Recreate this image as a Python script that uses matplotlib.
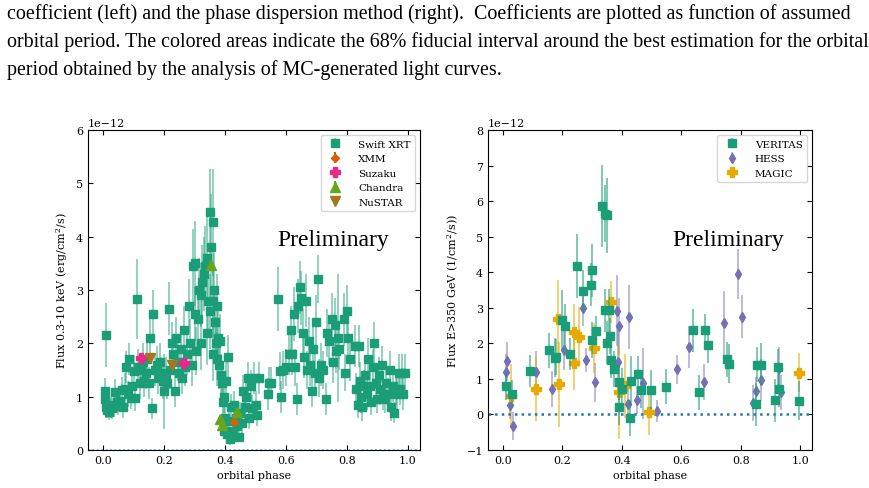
import matplotlib
matplotlib.use("Agg")
import matplotlib.pyplot as plt
import numpy as np

# Swift XRT (phase, flux[1e-12], err)
swift = [
(0.005,1.1,0.25),(0.007,0.95,0.2),(0.008,2.15,0.6),(0.01,0.8,0.2),(0.012,0.75,0.15),(0.015,0.85,0.2),
(0.02,0.72,0.15),(0.025,0.8,0.2),(0.03,0.78,0.2),(0.035,0.82,0.2),(0.04,1.08,0.25),(0.045,0.9,0.2),
(0.05,0.85,0.2),(0.055,0.92,0.2),(0.06,1.12,0.25),(0.065,0.8,0.2),(0.07,1.15,0.3),(0.075,1.55,0.3),
(0.08,1.05,0.25),(0.085,1.7,0.3),(0.09,0.97,0.2),(0.095,1.2,0.3),(0.1,1.48,0.3),(0.105,0.98,0.25),
(0.11,2.83,0.75),(0.115,1.55,0.35),(0.12,1.25,0.3),(0.125,1.5,0.3),(0.13,1.65,0.35),(0.135,1.3,0.3),
(0.14,1.45,0.3),(0.145,1.7,0.3),(0.15,1.25,0.3),(0.155,2.1,0.4),(0.16,0.78,0.2),(0.165,2.55,0.45),
(0.17,1.5,0.3),(0.175,1.6,0.35),(0.18,1.35,0.3),(0.185,1.65,0.35),(0.19,1.45,0.3),(0.195,1.3,0.35),
(0.2,1.1,0.7),(0.205,1.4,0.35),(0.21,1.25,0.3),(0.215,2.65,0.5),(0.22,1.5,0.35),(0.225,2.0,0.4),
(0.23,1.8,0.35),(0.235,1.1,0.3),(0.24,2.1,0.4),(0.245,1.65,0.35),(0.25,1.45,0.35),(0.255,1.9,0.4),
(0.26,1.35,0.3),(0.265,2.25,0.45),(0.27,1.55,0.35),(0.275,1.8,0.4),(0.28,2.7,0.5),(0.285,2.0,0.45),
(0.29,1.6,0.4),(0.295,3.45,0.7),(0.3,3.5,0.8),(0.3,2.55,0.5),(0.305,1.85,0.45),(0.31,2.45,0.5),
(0.315,3.0,0.6),(0.32,2.0,0.5),(0.322,2.9,0.6),(0.325,3.15,0.7),(0.33,3.3,0.7),(0.335,3.45,0.75),
(0.34,2.2,0.6),(0.342,3.6,0.8),(0.345,2.8,0.7),(0.35,4.47,0.8),(0.352,2.6,0.7),(0.355,3.8,1.0),
(0.36,4.27,1.0),(0.36,1.8,0.5),(0.362,2.8,0.7),(0.365,3.0,0.7),(0.368,2.4,0.6),(0.37,2.0,0.5),
(0.372,1.7,0.5),(0.375,2.7,0.6),(0.378,2.1,0.5),(0.38,1.6,0.45),(0.385,2.05,0.5),(0.388,1.4,0.4),
(0.39,1.25,0.35),(0.392,0.9,0.3),(0.395,1.0,0.3),(0.398,0.35,0.15),(0.4,0.6,0.2),(0.402,1.3,0.35),
(0.405,0.3,0.15),(0.41,1.75,0.4),(0.412,0.55,0.2),(0.415,0.2,0.1),(0.42,0.8,0.25),(0.425,0.35,0.15),
(0.43,0.85,0.25),(0.435,0.6,0.2),(0.44,0.45,0.2),(0.445,0.25,0.1),(0.45,0.7,0.2),(0.455,0.5,0.2),
(0.46,1.1,0.3),(0.465,0.8,0.25),(0.47,1.0,0.3),(0.475,1.35,0.3),(0.48,0.6,0.2),(0.485,1.2,0.3),
(0.49,0.78,0.25),(0.495,1.35,0.3),(0.5,0.85,0.25),(0.505,0.65,0.2),(0.51,1.35,0.3),(0.54,1.05,0.3),
(0.545,1.25,0.3),(0.55,1.25,0.3),(0.575,2.83,0.6),(0.58,1.48,0.35),(0.585,1.0,0.3),(0.59,1.5,0.35),
(0.6,1.55,0.35),(0.61,1.8,0.4),(0.615,2.25,0.45),(0.62,1.8,0.4),(0.625,2.55,0.5),(0.63,1.55,0.35),
(0.635,0.95,0.3),(0.64,2.7,0.5),(0.645,3.05,0.5),(0.65,2.85,0.5),(0.655,2.2,0.45),(0.66,1.75,0.4),
(0.665,2.8,0.5),(0.67,1.5,0.35),(0.675,2.05,0.45),(0.68,1.6,0.4),(0.685,1.1,0.3),(0.69,1.9,0.4),
(0.695,1.45,0.35),(0.7,2.4,0.5),(0.705,3.2,0.45),(0.71,1.35,0.35),(0.715,1.6,0.4),(0.72,1.5,0.35),
(0.73,0.95,0.3),(0.735,2.2,0.45),(0.74,2.05,0.45),(0.75,2.45,0.5),(0.755,1.65,0.4),(0.76,2.35,0.5),
(0.765,1.85,0.4),(0.77,2.1,1.2),(0.775,1.9,0.4),(0.79,2.45,0.5),(0.795,1.45,0.35),(0.8,2.6,0.5),
(0.805,2.1,0.45),(0.81,1.7,0.4),(0.825,1.95,0.4),(0.83,1.15,0.3),(0.835,0.85,0.25),(0.84,1.95,0.4),
(0.842,1.3,0.35),(0.845,1.0,0.3),(0.85,0.8,0.25),(0.855,1.2,0.3),(0.86,1.4,0.35),(0.865,1.05,0.3),
(0.87,1.7,0.4),(0.875,1.2,0.3),(0.88,0.9,0.25),(0.885,1.55,0.35),(0.89,2.0,0.4),(0.895,1.25,0.3),
(0.9,0.95,0.25),(0.905,1.4,0.35),(0.91,1.15,0.3),(0.915,1.6,0.35),(0.92,1.05,0.3),(0.925,0.95,0.25),
(0.93,1.25,0.3),(0.935,1.05,0.3),(0.94,1.5,0.35),(0.945,0.8,0.25),(0.95,1.2,0.3),(0.955,0.7,0.2),
(0.96,1.15,0.3),(0.965,1.05,0.3),(0.97,1.45,0.35),(0.975,1.15,0.3),(0.98,1.45,0.35),(0.985,1.05,0.3),
(0.99,1.45,0.35)]
xmm = [(0.43,0.52,0.08)]
suzaku = [(0.125,1.73,0.06),(0.265,1.63,0.06)]
chandra = [(0.355,3.47,0.1),(0.385,0.58,0.06),(0.39,0.46,0.05),(0.44,0.72,0.06)]
nustar = [(0.155,1.73,0.05),(0.225,1.6,0.05)]

veritas = [(0.01,0.8,0.4),(0.03,0.57,0.4),(0.09,1.22,0.45),(0.155,1.8,0.5),(0.175,1.6,0.55),(0.18,1.62,0.5),
(0.20,2.65,0.85),(0.21,2.5,0.6),(0.225,1.7,0.45),(0.25,4.18,0.9),(0.27,3.47,0.6),(0.295,3.65,0.6),
(0.30,4.05,0.75),(0.30,2.1,0.5),(0.315,2.36,0.4),(0.335,5.86,1.15),(0.345,5.65,0.8),(0.352,5.6,1.05),
(0.345,2.93,0.6),(0.352,2.02,0.6),(0.358,2.93,0.6),(0.36,2.2,0.5),(0.365,1.52,0.5),(0.375,1.28,0.5),
(0.39,0.92,0.5),(0.392,0.2,0.5),(0.40,0.72,0.6),(0.43,0.95,0.7),(0.428,-0.1,0.5),(0.455,1.15,0.5),
(0.465,0.68,0.5),(0.50,0.7,0.55),(0.55,0.78,0.5),(0.64,2.37,0.6),(0.66,0.62,0.5),(0.68,2.37,0.45),
(0.69,1.95,0.5),(0.755,1.55,0.5),(0.76,1.43,0.55),(0.85,0.28,0.6),(0.855,1.4,0.5),(0.87,1.4,0.6),
(0.915,0.4,0.6),(0.925,1.33,0.5),(0.93,0.72,0.5),(0.995,0.38,0.55)]
hess = [(0.01,1.2,0.5),(0.015,1.5,0.55),(0.025,0.27,0.4),(0.035,-0.33,0.4),(0.11,1.18,0.6),(0.165,0.72,0.5),
(0.205,1.8,0.55),(0.27,2.98,0.5),(0.28,1.53,0.35),(0.31,0.9,0.55),(0.385,2.92,1.0),(0.39,2.48,0.8),
(0.388,1.47,0.9),(0.42,0.3,0.5),(0.425,2.75,0.9),(0.45,0.4,0.4),(0.47,0.88,1.0),(0.52,0.1,0.3),
(0.585,1.27,0.4),(0.625,1.9,0.6),(0.675,0.92,0.5),(0.745,2.57,0.9),(0.79,3.95,0.7),(0.805,2.75,0.6),
(0.84,0.32,0.5),(0.85,0.65,0.4),(0.87,0.97,0.6),(0.928,1.3,0.6),(0.935,0.62,0.5)]
magic = [(0.027,0.52,0.9),(0.11,0.72,0.9),(0.185,2.68,1.1),(0.188,0.85,1.2),(0.24,2.32,0.8),(0.24,1.45,0.75),
(0.255,2.18,0.85),(0.305,1.86,0.7),(0.365,3.16,0.6),(0.39,0.62,1.3),(0.41,0.8,0.9),(0.49,0.08,0.65),
(0.995,1.17,0.55)]

caption = ["coefficient (left) and the phase dispersion method (right).  Coefficients are plotted as function of assumed",
           "orbital period. The colored areas indicate the 68% fiducial interval around the best estimation for the orbital",
           "period obtained by the analysis of MC-generated light curves."]

plt.rcParams['font.family'] = 'DejaVu Serif'
plt.rcParams['mathtext.fontset'] = 'dejavuserif'
fig = plt.figure(figsize=(8.7, 4.89), dpi=100)
for i, line in enumerate(caption):
    fig.text(7/870, 1 - (14 + 28*i)/489, line, family='Liberation Serif', fontsize=14.4, va='center', ha='left')

ax1 = fig.add_axes([88/870, 1-451/489, 332/870, 320/489])
ax2 = fig.add_axes([488/870, 1-451/489, 324/870, 320/489])

def eb(ax, data, **kw):
    a = np.array(data)
    return ax.errorbar(a[:,0], a[:,1]*1e-12, yerr=a[:,2]*1e-12, linestyle='none', **kw)

eb(ax1, swift, marker='s', color='#1b9e77', ms=6, elinewidth=1.1, ecolor=(0.106,0.62,0.467,0.6), label='Swift XRT', zorder=2)
eb(ax1, xmm, marker='D', color='#d95f02', ms=4.5, label='XMM', zorder=3)
eb(ax1, suzaku, marker='P', color='#e7298a', ms=6.5, label='Suzaku', zorder=3)
eb(ax1, chandra, marker='^', color='#66a61e', ms=6.5, label='Chandra', zorder=3)
eb(ax1, nustar, marker='v', color='#a6761d', ms=6.5, label='NuSTAR', zorder=3)
ax1.axhline(0, color='#1f77b4', ls=':', lw=1.2, alpha=0.6)
ax1.set_ylim(0, 6e-12)
ax1.set_ylabel('Flux 0.3-10 keV (erg/cm$^2$/s)', fontsize=8)

eb(ax2, veritas, marker='s', color='#1b9e77', ms=6, ecolor=(0.106,0.62,0.467,0.7), elinewidth=1.1, label='VERITAS', zorder=3)
eb(ax2, hess, marker='d', color='#7570b3', ms=5.5, ecolor=(0.46,0.44,0.7,0.6), elinewidth=1.1, label='HESS', zorder=2)
eb(ax2, magic, marker='P', color='#e6ab02', ms=6.5, ecolor=(0.9,0.67,0.01,0.7), elinewidth=1.1, label='MAGIC', zorder=2)
ax2.axhline(0, color='#1f77b4', ls=':', lw=1.8)
ax2.set_ylim(-1e-12, 8e-12)
ax2.set_ylabel('Flux E>350 GeV (1/cm$^2$/s))', fontsize=8)

for ax in (ax1, ax2):
    ax.set_xlim(-0.05, 1.04)
    ax.set_xticks([0, 0.2, 0.4, 0.6, 0.8, 1.0])
    ax.set_xlabel('orbital phase', fontsize=8)
    ax.tick_params(direction='in', top=True, right=True, labelsize=8)
    ax.yaxis.get_offset_text().set_fontsize(8)
    ax.legend(loc='upper right', fontsize=7.5, handletextpad=1.2)
    ax.text(0.57, 0.64, 'Preliminary', transform=ax.transAxes, family='Liberation Serif', fontsize=17)

fig.savefig('out.png', dpi=100)
